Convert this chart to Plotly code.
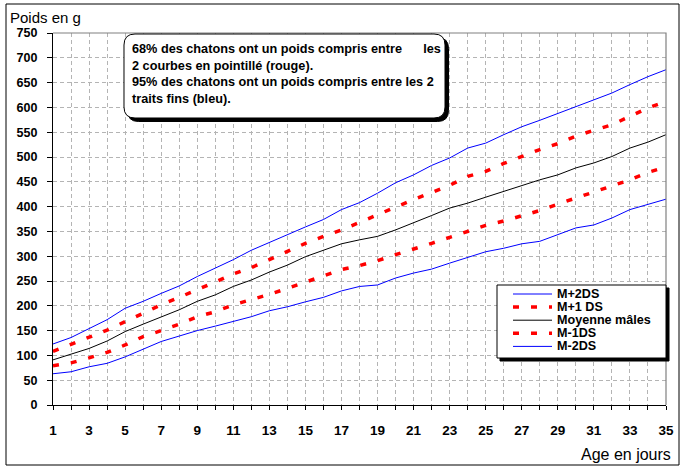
import plotly.graph_objects as go

# ---------------- data ----------------
days = list(range(1, 36))
m_plus_2ds = [123, 136, 154, 172, 195, 209, 225, 240, 259, 276, 293, 312, 328, 343, 359, 374, 394,
              408, 427, 448, 464, 483, 498, 518, 528, 545, 561, 574, 588, 602, 616, 629, 646, 662, 676]
m_plus_1ds = [108, 122, 136, 151, 168, 185, 202, 217, 232, 248, 264, 277, 293, 309, 326, 340, 353,
              368, 384, 399, 414, 429, 443, 461, 471, 487, 501, 515, 527, 542, 554, 565, 582, 599, 612]
moyenne = [91, 103, 114, 129, 148, 163, 178, 192, 209, 222, 239, 252, 268, 282, 299, 312, 325,
           333, 340, 353, 367, 382, 397, 407, 419, 431, 442, 454, 464, 478, 488, 501, 518, 530, 545]
m_minus_1ds = [79, 85, 95, 106, 121, 138, 150, 163, 178, 188, 202, 212, 223, 235, 248, 260, 273,
               281, 291, 303, 314, 326, 338, 350, 362, 371, 382, 392, 405, 417, 429, 441, 454, 469, 480]
m_minus_2ds = [63, 67, 77, 84, 97, 112, 128, 139, 150, 159, 168, 178, 190, 198, 208, 217, 230,
               239, 242, 256, 266, 274, 286, 298, 309, 316, 325, 330, 343, 357, 363, 377, 394, 404, 415]

series_names = ["M+2DS", "M+1 DS", "Moyenne mâles", "M-1DS", "M-2DS"]
series_values = [m_plus_2ds, m_plus_1ds, moyenne, m_minus_1ds, m_minus_2ds]
x_tick_labels = [str(d) if d % 2 == 1 else "" for d in days]
y_ticks = list(range(0, 751, 50))

note_lines = [
    "68% des chatons ont un poids compris entre\u00a0\u00a0\u00a0\u00a0\u00a0\u00a0les",
    "2 courbes en pointillé (rouge).",
    "95% des chatons ont un poids compris entre les 2",
    "traits fins (bleu).",
]

# ---------------- styles ----------------
styles = [
    dict(color="#0000ff", width=1, dash="solid"),
    dict(color="#ff0000", width=3.5, dash="6px,12px"),
    dict(color="#000000", width=1, dash="solid"),
    dict(color="#ff0000", width=3.5, dash="6px,12px"),
    dict(color="#0000ff", width=1, dash="solid"),
]

FONT = "Liberation Sans, Arial, sans-serif"

W, H = 686, 474
L, R, T, B = 53, 666, 33, 405


def px(x):
    return (x - L) / (R - L)


def py(y):
    return (B - y) / (B - T)


def rrect_path(x0, y0, x1, y1, r):
    pts = [
        ("M", [(x0 + r, y0)]),
        ("L", [(x1 - r, y0)]),
        ("Q", [(x1, y0), (x1, y0 + r)]),
        ("L", [(x1, y1 - r)]),
        ("Q", [(x1, y1), (x1 - r, y1)]),
        ("L", [(x0 + r, y1)]),
        ("Q", [(x0, y1), (x0, y1 - r)]),
        ("L", [(x0, y0 + r)]),
        ("Q", [(x0, y0), (x0 + r, y0)]),
    ]
    s = ""
    for cmd, ps in pts:
        s += cmd + " " + " ".join(f"{px(a):.5f},{py(b):.5f}" for a, b in ps) + " "
    return s + "Z"


fig = go.Figure()
for name, vals, st in zip(series_names, series_values, styles):
    fig.add_trace(go.Scatter(x=days, y=vals, name=name, mode="lines",
                             line=dict(color=st["color"], width=st["width"], dash=st["dash"]),
                             showlegend=False, xaxis="x", yaxis="y"))

shapes = []
# outer frame
shapes.append(dict(type="rect", xref="paper", yref="paper",
                   x0=px(6), x1=px(679), y0=py(465), y1=py(4),
                   line=dict(color="black", width=1), fillcolor="rgba(0,0,0,0)", layer="below"))
# plot area top/right border (grey)
shapes.append(dict(type="path", xref="paper", yref="paper",
                   path="M 0,1 L 1,1 L 1,0", line=dict(color="#808080", width=1.2)))

# annotation box (rounded with shadow)
bx0, by0, bx1, by1 = 124, 34, 445, 118
shapes.append(dict(type="path", xref="paper", yref="paper",
                   path=rrect_path(bx0 + 3.5, by0 + 3.5, bx1 + 3.5, by1 + 3.5, 11),
                   fillcolor="black", line=dict(color="black", width=1)))
shapes.append(dict(type="path", xref="paper", yref="paper",
                   path=rrect_path(bx0, by0, bx1, by1, 11),
                   fillcolor="white", line=dict(color="black", width=1)))

# legend box with shadow
lx0, ly0, lx1, ly1 = 497, 285, 666, 358
shapes.append(dict(type="rect", xref="paper", yref="paper",
                   x0=px(lx0 + 3), x1=px(lx1 + 3), y0=py(ly1 + 3), y1=py(ly0 + 3),
                   fillcolor="black", line=dict(color="black", width=1)))
shapes.append(dict(type="rect", xref="paper", yref="paper",
                   x0=px(lx0), x1=px(lx1), y0=py(ly1), y1=py(ly0),
                   fillcolor="white", line=dict(color="black", width=1)))

annotations = []
for i, (name, st) in enumerate(zip(series_names, styles)):
    ry = 294 + i * 13.1
    shapes.append(dict(type="line", xref="paper", yref="paper",
                       x0=px(513), x1=px(552), y0=py(ry), y1=py(ry),
                       line=dict(color=st["color"], width=st["width"], dash=st["dash"])))
    annotations.append(dict(xref="paper", yref="paper", x=px(555), y=py(ry),
                            xanchor="left", yanchor="middle", showarrow=False,
                            text=name, font=dict(family=FONT, size=12.6, color="black", weight="bold")))

annotations.append(dict(xref="paper", yref="paper", x=px(130), y=py(40),
                        xanchor="left", yanchor="top", showarrow=False, align="left",
                        text="<br>".join(note_lines),
                        font=dict(family=FONT, size=12.7, color="black", weight="bold")))

annotations.append(dict(xref="paper", yref="paper", x=px(8), y=py(17.5),
                        xanchor="left", yanchor="middle", showarrow=False,
                        text="Poids en g", font=dict(family=FONT, size=15, color="black")))
annotations.append(dict(xref="paper", yref="paper", x=px(673), y=py(455),
                        xanchor="right", yanchor="middle", showarrow=False,
                        text="Age en jours", font=dict(family=FONT, size=16, color="black")))

grid_dash = "4px,3px"
fig.update_layout(
    width=W, height=H,
    margin=dict(l=L, r=W - R, t=T, b=H - B, pad=0),
    paper_bgcolor="white", plot_bgcolor="white",
    showlegend=False,
    xaxis=dict(range=[1, 35], tickmode="array", tickvals=days, ticktext=x_tick_labels,
               showgrid=True, gridcolor="#b4b4b4", griddash=grid_dash, gridwidth=1,
               showline=True, linecolor="black", linewidth=1.2,
               ticks="outside", ticklen=4, tickcolor="black", tickwidth=1,
               ticklabelstandoff=9,
               tickfont=dict(family=FONT, size=13.5, color="black", weight="bold"),
               zeroline=False),
    xaxis2=dict(range=[1, 35], overlaying="x", anchor="y", side="bottom",
                tickmode="array", tickvals=days, showticklabels=False,
                showgrid=False, showline=False, zeroline=False,
                ticks="inside", ticklen=4, tickcolor="black", tickwidth=1),
    yaxis=dict(range=[0, 750], tickmode="array", tickvals=y_ticks,
               showgrid=True, gridcolor="#b4b4b4", griddash=grid_dash, gridwidth=1,
               showline=True, linecolor="black", linewidth=1.2,
               ticks="outside", ticklen=5, tickcolor="black", tickwidth=1,
               ticklabelstandoff=7,
               tickfont=dict(family=FONT, size=12.5, color="black", weight="bold"),
               zeroline=False),
    shapes=shapes,
    annotations=annotations,
)

fig.write_html("out.html",
               config={"displayModeBar": False},
               post_script="document.body.style.margin='0px';document.body.style.padding='0px';")
